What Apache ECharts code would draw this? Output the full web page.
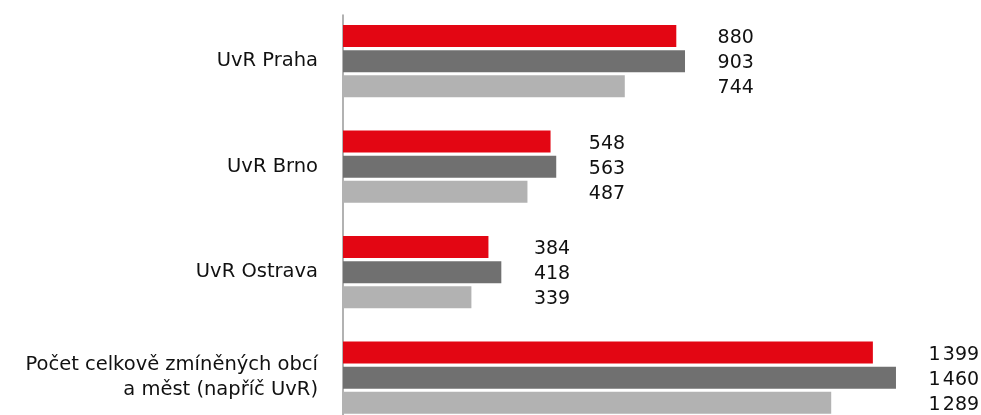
<!DOCTYPE html>
<html><head><meta charset="utf-8">
<script src="https://cdn.jsdelivr.net/npm/echarts@6/dist/echarts.min.js"></script>
<style>html,body{margin:0;padding:0;background:#fff}#c{width:981px;height:415px}</style>
</head><body><div id="c"></div>
<script>
const categories = ['UvR Praha', 'UvR Brno', 'UvR Ostrava', 'Počet celkově zmíněných obcí\na měst (napříč UvR)'];
const seriesA = [880, 548, 384, 1399];
const seriesB = [903, 563, 418, 1460];
const seriesC = [744, 487, 339, 1289];
const colors = ['#E30613', '#707070', '#B2B2B2'];
const FONT = 'DejaVu Sans';

const all = [seriesA, seriesB, seriesC];
const catMax = categories.map((c, j) => Math.max(...all.map(s => s[j])));
const labelGap = 86;
const fmt = v => String(v).replace(/\B(?=(\d{3})+(?!\d))/g, '{s| }');

const chart = echarts.init(document.getElementById('c'), null, {renderer: 'canvas'});
const barSeries = all.map((s, i) => ({
  type: 'bar', data: s, barWidth: 22, barGap: '14%',
  itemStyle: {color: colors[i]}, silent: true, animation: false
}));
const labelSeries = all.map((s, i) => ({
  type: 'scatter', symbolSize: 0, animation: false, silent: true,
  itemStyle: {opacity: 1, color: '#111'},
  data: categories.map((c, j) => ({value: [catMax[j] + labelGap, c], lab: fmt(s[j])})),
  label: {show: true, position: 'right', distance: 0, offset: [0, (i - 1) * 25 + 2],
    formatter: p => p.data.lab, color: '#111', opacity: 1, fontSize: 19, fontFamily: FONT,
    rich: {s: {fontSize: 7, fontFamily: FONT}}}
}));
chart.setOption({
  animation: false,
  grid: [
    {left: 343, top: 8.4, width: 606, height: 422, outerBoundsMode: 'none', containLabel: false},
    {left: 343, top: 15, width: 606, bottom: 0, outerBoundsMode: 'none', containLabel: false}
  ],
  xAxis: [
    {type: 'value', min: 0, max: 1600, show: false, gridIndex: 0},
    {type: 'value', min: 0, max: 1, show: false, gridIndex: 1}
  ],
  yAxis: [
    {type: 'category', data: categories, inverse: true, gridIndex: 0,
     axisLine: {show: false}, axisTick: {show: false},
     axisLabel: {margin: 25, color: '#111', fontSize: 19.5, fontFamily: FONT, lineHeight: 25, align: 'right'}},
    {type: 'value', gridIndex: 1, min: 0, max: 1, axisLabel: {show: false}, axisTick: {show: false},
     splitLine: {show: false}, axisLine: {show: true, lineStyle: {color: '#999', width: 1.5}}}
  ],
  series: [...barSeries, ...labelSeries]
});
</script></body></html>
